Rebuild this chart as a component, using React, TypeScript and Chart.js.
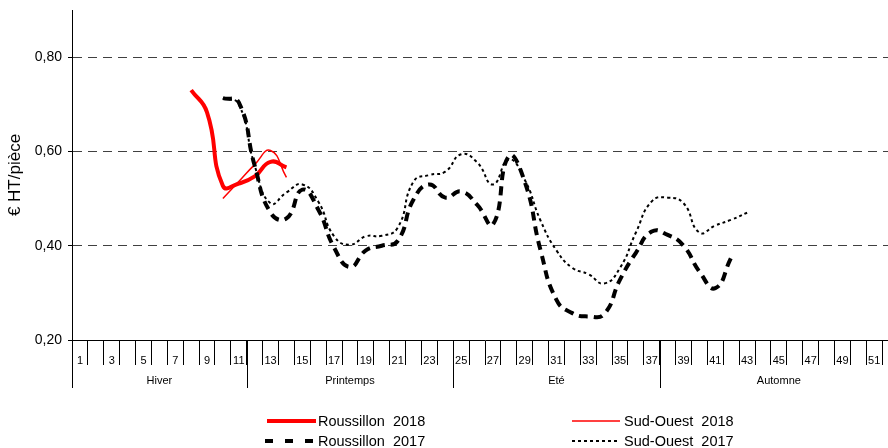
import React, { useEffect, useRef } from 'react';
import { Chart, registerables } from 'chart.js';

Chart.register(...registerables);

// ---------- data ----------
const weekLabels: string[] = Array.from({ length: 52 }, (_, i) => String(i + 1));
const seasonNames = ['Hiver', 'Printemps', 'Eté', 'Automne'];
const seasonLastWeek = [11, 24, 37, 52];
const yTickValues = [0.2, 0.4, 0.6, 0.8];

const roussillon2018Start = 8;
const roussillon2018 = [0.73, 0.683, 0.527, 0.532, 0.547, 0.578, 0.566];

const sudOuest2018Start = 10;
const sudOuest2018 = [0.5, 0.536, 0.572, 0.602, 0.545];

const roussillon2017Start = 10;
const roussillon2017 = [
  0.713, 0.704, 0.57, 0.47, 0.458, 0.519, 0.477, 0.396, 0.355, 0.39, 0.4, 0.41,
  0.498, 0.53, 0.502, 0.515, 0.487, 0.445, 0.59, 0.536, 0.39, 0.285, 0.257, 0.25,
  0.255, 0.328, 0.385, 0.43, 0.423, 0.4, 0.345, 0.31, 0.375,
];

const sudOuest2017Start = 10;
const sudOuest2017 = [
  0.713, 0.7, 0.57, 0.49, 0.513, 0.53, 0.494, 0.42, 0.402, 0.42, 0.421, 0.438,
  0.536, 0.55, 0.557, 0.594, 0.577, 0.53, 0.583, 0.54, 0.453, 0.39, 0.353, 0.34,
  0.32, 0.353, 0.428, 0.494, 0.502, 0.49, 0.428, 0.443, 0.455, 0.47,
];

const FONT = '"Liberation Sans", Arial, sans-serif';

function toWeekSeries(start: number, values: number[]): (number | null)[] {
  const out: (number | null)[] = weekLabels.map(() => null);
  values.forEach((v, i) => {
    out[start - 1 + i] = v;
  });
  return out;
}

// legend layout (positions only)
const legendLayout: Record<string, { x1: number; x2: number; tx: number; y: number }> = {
  'Roussillon  2018': { x1: 267, x2: 316, tx: 318, y: 421 },
  'Sud-Ouest  2018': { x1: 572, x2: 620, tx: 624, y: 421 },
  'Roussillon  2017': { x1: 265, x2: 313, tx: 318, y: 441 },
  'Sud-Ouest  2017': { x1: 572, x2: 620, tx: 624, y: 441 },
};

const seasonPlugin = {
  id: 'seasonAxis',
  afterDraw(chart: any) {
    const { ctx, chartArea } = chart;
    const x = chart.scales.x;
    const bottom = chartArea.bottom;
    ctx.save();
    ctx.strokeStyle = '#000';
    ctx.lineWidth = 1;
    ctx.fillStyle = '#000';
    ctx.font = `11px ${FONT}`;
    ctx.textAlign = 'center';
    ctx.textBaseline = 'middle';
    let prev = 0;
    seasonLastWeek.forEach((last, i) => {
      const left = x.getPixelForValue(prev - 0.5);
      const right = x.getPixelForValue(last - 0.5);
      const lx = Math.round(left) + 0.5;
      ctx.beginPath();
      ctx.moveTo(lx, bottom);
      ctx.lineTo(lx, bottom + 48);
      ctx.stroke();
      ctx.fillText(seasonNames[i], (left + right) / 2, bottom + 41);
      prev = last;
    });
    ctx.restore();
  },
};

const legendPlugin = {
  id: 'customLegend',
  afterDraw(chart: any) {
    const { ctx } = chart;
    ctx.save();
    chart.data.datasets.forEach((ds: any) => {
      const pos = legendLayout[ds.label];
      if (!pos) return;
      ctx.beginPath();
      ctx.strokeStyle = ds.borderColor;
      ctx.lineWidth = ds.borderWidth;
      ctx.setLineDash(ds.legendDash || []);
      ctx.moveTo(pos.x1, pos.y);
      ctx.lineTo(pos.x2, pos.y);
      ctx.stroke();
      ctx.setLineDash([]);
      ctx.fillStyle = '#000';
      ctx.font = `14.5px ${FONT}`;
      ctx.textAlign = 'left';
      ctx.textBaseline = 'middle';
      ctx.fillText(ds.label, pos.tx, pos.y + 1);
    });
    ctx.restore();
  },
};

export default function App() {
  const canvasRef = useRef<HTMLCanvasElement | null>(null);

  useEffect(() => {
    if (!canvasRef.current) return;
    const chart = new Chart(canvasRef.current, {
      type: 'line',
      data: {
        labels: weekLabels,
        datasets: [
          {
            label: 'Sud-Ouest  2017',
            data: toWeekSeries(sudOuest2017Start, sudOuest2017),
            borderColor: '#000000',
            borderWidth: 2,
            borderDash: [3, 3],
            legendDash: [3, 3],
            pointRadius: 0,
            tension: 0.5,
            fill: false,
          } as any,
          {
            label: 'Roussillon  2017',
            data: toWeekSeries(roussillon2017Start, roussillon2017),
            borderColor: '#000000',
            borderWidth: 4,
            borderDash: [9, 6],
            legendDash: [8, 12],
            pointRadius: 0,
            tension: 0.5,
            fill: false,
          } as any,
          {
            label: 'Sud-Ouest  2018',
            data: toWeekSeries(sudOuest2018Start, sudOuest2018),
            borderColor: '#ff0000',
            borderWidth: 1.5,
            pointRadius: 0,
            tension: 0.5,
            fill: false,
          } as any,
          {
            label: 'Roussillon  2018',
            data: toWeekSeries(roussillon2018Start, roussillon2018),
            borderColor: '#ff0000',
            borderWidth: 4,
            pointRadius: 0,
            tension: 0.5,
            fill: false,
          } as any,
        ],
      },
      options: {
        animation: false,
        responsive: false,
        devicePixelRatio: 1,
        layout: { padding: { top: 10, right: 2, left: 0, bottom: 0 } },
        font: { family: FONT },
        plugins: {
          legend: { display: false },
          tooltip: { enabled: false },
        },
        scales: {
          x: {
            type: 'category',
            offset: true,
            grid: {
              display: true,
              drawOnChartArea: false,
              offset: true,
              tickLength: 25,
              color: '#000',
              lineWidth: 1,
            },
            border: { display: true, color: '#000', width: 1 },
            ticks: {
              autoSkip: false,
              maxRotation: 0,
              minRotation: 0,
              padding: -11,
              color: '#000',
              font: { size: 11, family: FONT },
              callback: (_v: any, i: number) => (i % 2 === 0 ? weekLabels[i] : ''),
            },
            afterFit: (s: any) => {
              s.height = 108;
              s.paddingLeft = 0;
              s.paddingRight = 0;
            },
          },
          y: {
            type: 'linear',
            min: 0.2,
            max: 0.9,
            afterBuildTicks: (s: any) => {
              s.ticks = yTickValues.map((v) => ({ value: v }));
            },
            afterFit: (s: any) => {
              s.width = 72;
              s.paddingTop = 0;
              s.paddingBottom = 0;
            },
            grid: {
              color: (c: any) => (c.tick && Math.abs(c.tick.value - 0.2) < 1e-6 ? 'rgba(0,0,0,0)' : '#404040'),
              tickColor: '#000',
              tickLength: 4,
              tickBorderDash: [],
              lineWidth: 1,
            },
            border: { display: true, color: '#000', width: 1, dash: [9, 6] },
            ticks: {
              padding: 6,
              color: '#000',
              font: { size: 14, family: FONT },
              callback: (v: any) => Number(v).toFixed(2).replace('.', ','),
            },
            title: {
              display: true,
              text: '€ HT/pièce',
              color: '#000',
              font: { size: 17, family: FONT },
              padding: { top: 5, bottom: 4 },
            },
          },
        },
      } as any,
      plugins: [seasonPlugin, legendPlugin],
    });
    return () => chart.destroy();
  }, []);

  return (
    <div
      style={{
        position: 'fixed',
        left: 0,
        top: 0,
        width: 888,
        height: 448,
        overflow: 'hidden',
        background: '#fff',
      }}
    >
      <canvas ref={canvasRef} width={900} height={448} style={{ display: 'block' }} />
    </div>
  );
}
